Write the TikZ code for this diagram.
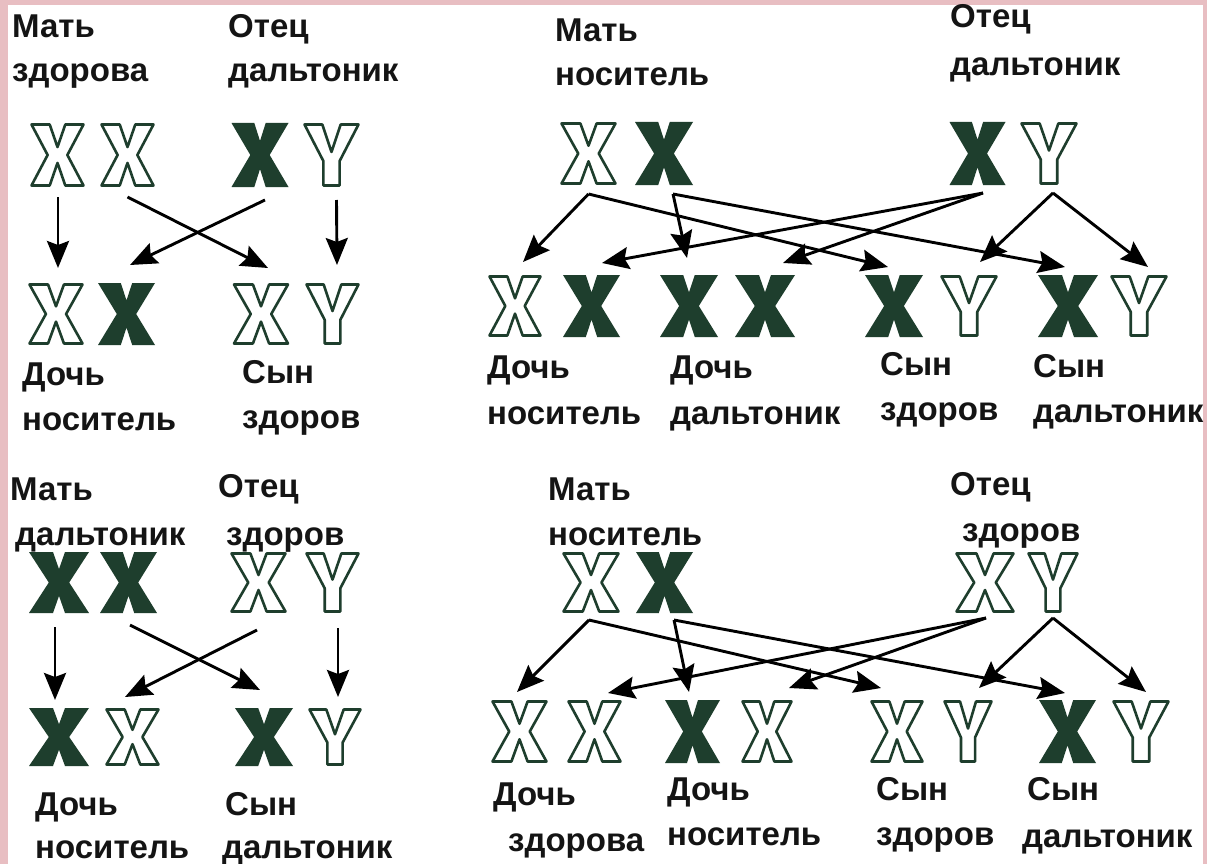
\documentclass[tikz,border=0pt]{standalone}
\usepackage{fontspec}
\setmainfont{Liberation Sans}
\usetikzlibrary{arrows.meta}
\definecolor{pinkbg}{RGB}{232,190,194}
\definecolor{dgreen}{RGB}{30,62,45}
\definecolor{txt}{RGB}{20,20,20}
\tikzset{
  gb/.style={inner sep=0pt, outer sep=0pt},
  lbl/.style={anchor=base west, inner sep=0pt, text=txt, font=\fontsize{33}{40}\selectfont\bfseries},
  arr/.style={draw=black, line width=2.9pt, -{Stealth[length=27pt,width=22pt,inset=4pt]}},
  xo/.style={fill=white, draw=dgreen, line width=2.6pt, line join=round},
  xs/.style={fill=dgreen},
}
\newcommand\XO[5]{%
  \node[gb, minimum width=#4pt, minimum height=#5pt] (#1) at (#2,#3) {};
  \begin{scope}[shift={(#2,#3)}, xscale=#4-3, yscale=#5-3]
    \path[xo] (-0.5,-0.5) -- (-0.15,-0.5) -- (0,-0.13) -- (0.15,-0.5) -- (0.5,-0.5) -- (0.19,0) -- (0.5,0.5) -- (0.15,0.5) -- (0,0.13) -- (-0.15,0.5) -- (-0.5,0.5) -- (-0.19,0) -- cycle;
  \end{scope}}
\newcommand\XS[5]{%
  \node[gb, minimum width=#4pt, minimum height=#5pt] (#1) at (#2,#3) {};
  \begin{scope}[shift={(#2,#3)}, xscale=#4, yscale=#5]
    \path[xs] (-0.5,-0.5) -- (-0.1,-0.5) -- (0,-0.22) -- (0.1,-0.5) -- (0.5,-0.5) -- (0.17,0) -- (0.5,0.5) -- (0.1,0.5) -- (0,0.22) -- (-0.1,0.5) -- (-0.5,0.5) -- (-0.17,0) -- cycle;
  \end{scope}}
\newcommand\YO[5]{%
  \node[gb, minimum width=#4pt, minimum height=#5pt] (#1) at (#2,#3) {};
  \begin{scope}[shift={(#2,#3)}, xscale=#4-3, yscale=#5-3]
    \path[xo] (-0.5,-0.5) -- (-0.17,-0.5) -- (0,-0.05) -- (0.17,-0.5) -- (0.5,-0.5) -- (0.15,0.1) -- (0.15,0.5) -- (-0.15,0.5) -- (-0.15,0.1) -- cycle;
  \end{scope}}
\begin{document}
\begin{tikzpicture}[x=1pt,y=-1pt]
\useasboundingbox (0,0) rectangle (1207,864);
\fill[pinkbg] (0,0) rectangle (1207,864);
\fill[white] (8,5) rectangle (1203,864);

% ---------- top left ----------
\node[lbl] (tlma) at (12,38) {Мать};
\node[lbl] (tlmb) at (12,82) {здорова};
\node[lbl] (tlfa) at (228,38) {Отец};
\node[lbl] (tlfb) at (228,82) {дальтоник};
\XO{tlm1}{57.5}{155}{55}{64}
\XO{tlm2}{127.5}{155}{55}{64}
\XS{tlf1}{260}{155}{57}{64}
\YO{tlf2}{331.5}{155}{57}{64}
\XO{tlc1}{56}{314}{56}{62}
\XS{tlc2}{126.5}{314}{57}{62}
\XO{tlc3}{261}{314}{57}{62}
\YO{tlc4}{332.5}{314}{55}{62}
\draw[arr] ([shift={(0.5,10)}]tlm1.south) -- ([shift={(2,-15)}]tlc1.north);
\draw[arr] ([shift={(0,10)}]tlm2.south) -- ([shift={(7,-15)}]tlc3.north);
\draw[arr] ([shift={(5,13)}]tlf1.south) -- ([shift={(3.5,-18)}]tlc2.north);
\draw[arr] ([shift={(5,13)}]tlf2.south) -- ([shift={(4.5,-18)}]tlc4.north);
\node[lbl] (tlda) at (22,385) {Дочь};
\node[lbl] (tldb) at (22,430) {носитель};
\node[lbl] (tlsa) at (242,383) {Сын};
\node[lbl] (tlsb) at (242,428) {здоров};

% ---------- top right ----------
\node[lbl] (trma) at (555,42) {Мать};
\node[lbl] (trmb) at (555,86) {носитель};
\node[lbl] (trfa) at (950,28) {Отец};
\node[lbl] (trfb) at (950,76) {дальтоник};
\XO{trm1}{588.5}{153.5}{57}{63}
\XS{trm2}{664}{153.5}{58}{63}
\XS{trf1}{977.5}{153.5}{56}{63}
\YO{trf2}{1049}{153.5}{58}{63}
\XO{trd1a}{515}{306}{54}{62}
\XS{trd1b}{591.5}{306}{57}{62}
\XS{trd2a}{689}{306}{58}{62}
\XS{trd2b}{765}{306}{60}{62}
\XS{trs1a}{894}{306}{58}{62}
\YO{trs1b}{969}{306}{58}{62}
\XS{trs2a}{1068}{306}{60}{62}
\YO{trs2b}{1139}{306}{58}{62}
\draw[arr] ([shift={(0,9)}]trm1.south) -- ([shift={(8,-13)}]trd1a.north);
\draw[arr] ([shift={(0,9)}]trm1.south) -- ([shift={(-6,-8)}]trs1a.north);
\draw[arr] ([shift={(9,9)}]trm2.south) -- ([shift={(-2,-17)}]trd2a.north);
\draw[arr] ([shift={(9,9)}]trm2.south) -- ([shift={(-3,-8)}]trs2a.north);
\draw[arr] ([shift={(5.5,8)}]trf1.south) -- ([shift={(10.5,-12)}]trd1b.north);
\draw[arr] ([shift={(5.5,8)}]trf1.south) -- ([shift={(18,-12)}]trd2b.north);
\draw[arr] ([shift={(4,8)}]trf2.south) -- ([shift={(11,-13)}]trs1b.north);
\draw[arr] ([shift={(4,8)}]trf2.south) -- ([shift={(9,-8)}]trs2b.north);
\node[lbl] (trd1t) at (487,378) {Дочь};
\node[lbl] (trd1u) at (487,424) {носитель};
\node[lbl] (trd2t) at (670,378) {Дочь};
\node[lbl] (trd2u) at (670,424) {дальтоник};
\node[lbl] (trs1t) at (880,375) {Сын};
\node[lbl] (trs1u) at (880,420) {здоров};
\node[lbl] (trs2t) at (1033,377) {Сын};
\node[lbl] (trs2u) at (1033,422) {дальтоник};

% ---------- bottom left ----------
\node[lbl] (blma) at (10,500) {Мать};
\node[lbl] (blmb) at (15,545) {дальтоник};
\node[lbl] (blfa) at (218,497) {Отец};
\node[lbl] (blfb) at (226,545) {здоров};
\XS{blm1}{59}{582.5}{60}{61}
\XS{blm2}{128.5}{582.5}{57}{61}
\XO{blf1}{258.5}{582.5}{57}{61}
\YO{blf2}{332.5}{582.5}{55}{61}
\XS{blc1}{59}{737}{60}{58}
\XO{blc2}{132.5}{737}{55}{58}
\XS{blc3}{264}{737}{58}{58}
\YO{blc4}{335}{737}{54}{58}
\draw[arr] ([shift={(-4,14)}]blm1.south) -- ([shift={(-4,-8)}]blc1.north);
\draw[arr] ([shift={(1.5,12)}]blm2.south) -- ([shift={(-4,-18)}]blc3.north);
\draw[arr] ([shift={(-1.5,17)}]blf1.south) -- ([shift={(-7.5,-11)}]blc2.north);
\draw[arr] ([shift={(5.5,15)}]blf2.south) -- ([shift={(3,-11)}]blc4.north);
\node[lbl] (blda) at (35,815) {Дочь};
\node[lbl] (bldb) at (35,858) {носитель};
\node[lbl] (blsa) at (225,815) {Сын};
\node[lbl] (blsb) at (222,858) {дальтоник};

% ---------- bottom right ----------
\node[lbl] (brma) at (548,500) {Мать};
\node[lbl] (brmb) at (548,545) {носитель};
\node[lbl] (brfa) at (950,495) {Отец};
\node[lbl] (brfb) at (962,541) {здоров};
\XO{brm1}{591}{582.5}{58}{61}
\XS{brm2}{664.5}{582.5}{57}{61}
\XO{brf1}{985}{582.5}{60}{61}
\YO{brf2}{1053}{582.5}{52}{61}
\XO{brc1}{519.5}{731.5}{57}{63}
\XO{brc2}{594.5}{731.5}{55}{63}
\XS{brc3}{692.5}{731.5}{55}{63}
\XO{brc4}{767}{731.5}{52}{63}
\XO{brc5}{897}{731.5}{54}{63}
\YO{brc6}{968}{731.5}{50}{63}
\XS{brc7}{1067.5}{731.5}{57}{63}
\YO{brc8}{1141}{731.5}{58}{63}
\draw[arr] ([shift={(-2,7)}]brm1.south) -- ([shift={(-2.5,-8)}]brc1.north);
\draw[arr] ([shift={(-2,7)}]brm1.south) -- ([shift={(-16,-12)}]brc5.north);
\draw[arr] ([shift={(9.5,7)}]brm2.south) -- ([shift={(-3.5,-8)}]brc3.north);
\draw[arr] ([shift={(9.5,7)}]brm2.south) -- ([shift={(-2.5,-7)}]brc7.north);
\draw[arr] ([shift={(1,5)}]brf1.south) -- ([shift={(13.5,-7)}]brc2.north);
\draw[arr] ([shift={(1,5)}]brf1.south) -- ([shift={(22,-12)}]brc4.north);
\draw[arr] ([shift={(0,5)}]brf2.south) -- ([shift={(11,-12)}]brc6.north);
\draw[arr] ([shift={(0,5)}]brf2.south) -- ([shift={(5,-8)}]brc8.north);
\node[lbl] (brd1t) at (493,805) {Дочь};
\node[lbl] (brd1u) at (508,851) {здорова};
\node[lbl] (brd2t) at (667,800) {Дочь};
\node[lbl] (brd2u) at (667,845) {носитель};
\node[lbl] (brs1t) at (876,800) {Сын};
\node[lbl] (brs1u) at (876,845) {здоров};
\node[lbl] (brs2t) at (1027,800) {Сын};
\node[lbl] (brs2u) at (1022,847) {дальтоник};
\end{tikzpicture}
\end{document}
